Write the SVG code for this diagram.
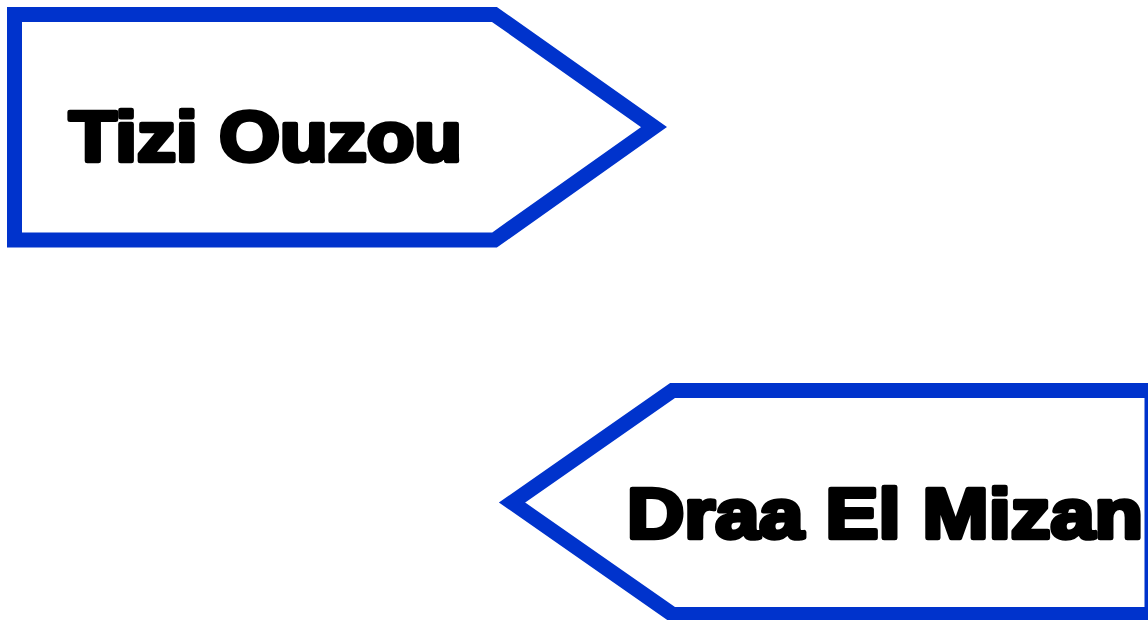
<svg xmlns="http://www.w3.org/2000/svg" width="1148" height="620" viewBox="0 0 1148 620">
<style>
.sign{fill:#ffffff;stroke:#0033cc;stroke-width:15;stroke-linejoin:miter;stroke-miterlimit:10}
.lbl{font-family:"Liberation Sans",Arial,sans-serif;font-weight:bold;font-size:70px;fill:#000;stroke:#000;stroke-width:4.5;stroke-linejoin:round}
</style>
<rect width="1148" height="620" fill="#ffffff"/>
<g id="tizi-ouzou">
<polygon class="sign" points="14.5,14.5 494.5,14.5 654,127 494.5,240 14.5,240"/>
<text class="lbl" x="69" y="160.5" textLength="393" lengthAdjust="spacingAndGlyphs">Tizi Ouzou</text>
</g>
<g id="draa-el-mizan">
<polygon class="sign" points="1152,390.5 672.5,390.5 512,502.5 672.5,614.5 1152,614.5"/>
<text class="lbl" x="627" y="537.5" textLength="516" lengthAdjust="spacingAndGlyphs">Draa El Mizan</text>
</g>
<g id="connectors"/>
</svg>
